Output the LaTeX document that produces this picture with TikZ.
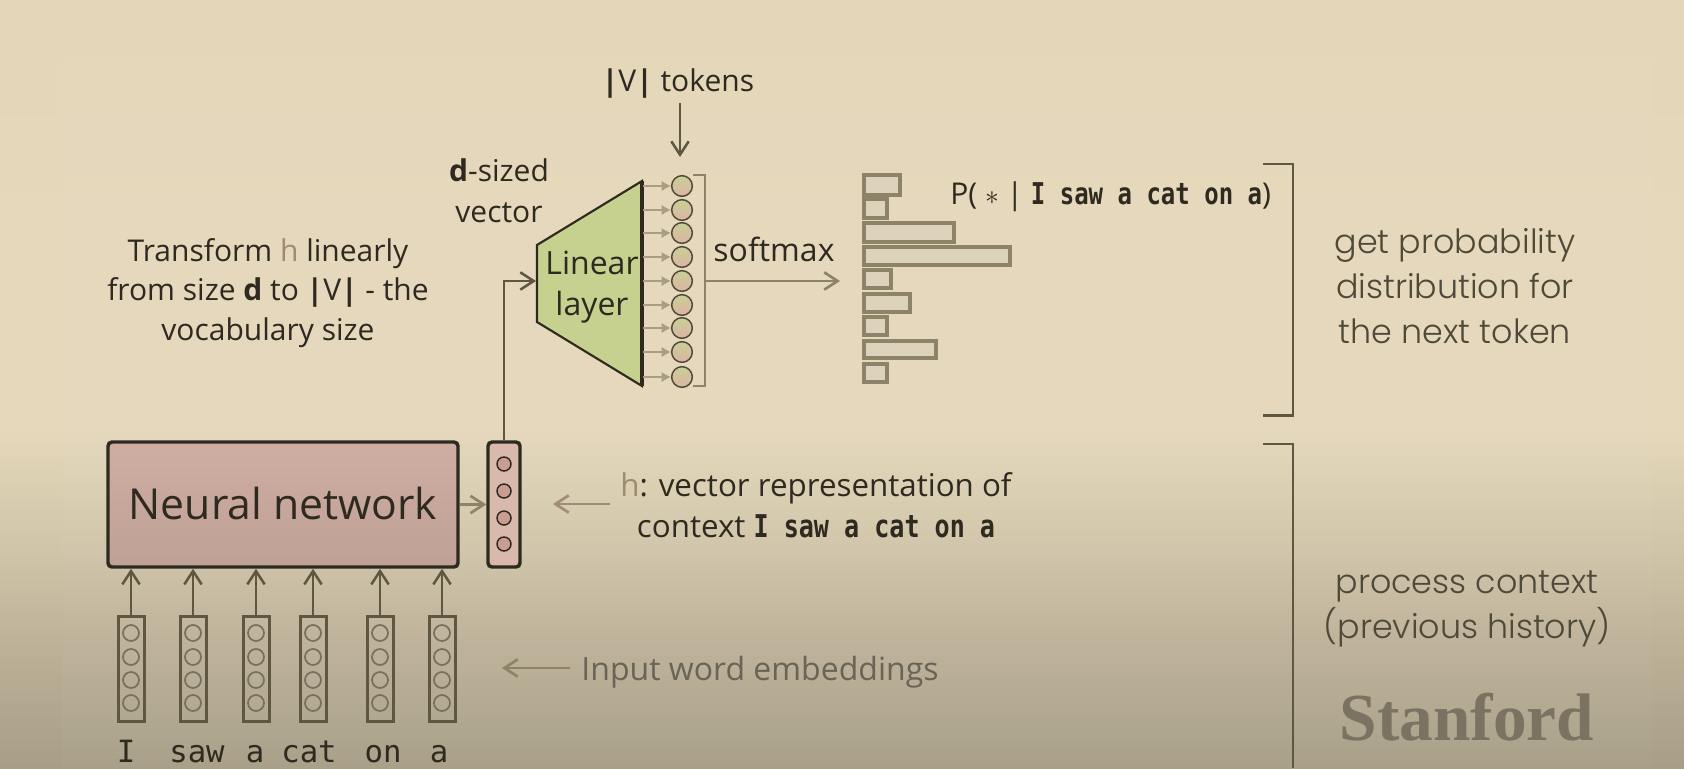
\documentclass[tikz,border=0pt]{standalone}
\usepackage{fontspec}
\setmainfont{Open Sans}
\newfontfamily\wordfont{DejaVu Sans Mono}
\newfontfamily\phrasefont[FakeStretch=0.8]{DejaVu Sans Mono}
\newfontfamily\sidefont{Poppins Light}
\newfontfamily\logofont{Liberation Serif}
\usetikzlibrary{arrows.meta}

\definecolor{inkdark}{HTML}{2E2A20}
\definecolor{inksoft}{HTML}{4E4938}
\definecolor{linedark}{HTML}{5E5741}
\definecolor{linetan}{HTML}{8C8369}
\definecolor{stubtan}{HTML}{A89E80}
\definecolor{pinkarrow}{HTML}{A08C78}
\definecolor{hbrown}{HTML}{A08A70}
\definecolor{bgtop}{HTML}{E4D6B8}
\definecolor{bgmid}{HTML}{E5D8BB}
\definecolor{bgone}{HTML}{CFC4A8}
\definecolor{bgtwo}{HTML}{BDB298}
\definecolor{bgend}{HTML}{A79E87}
\definecolor{hcircfill}{HTML}{C99D92}
\definecolor{hfill}{HTML}{D8B9AC}
\definecolor{nnfill}{HTML}{CFAEA2}
\definecolor{layerfill}{HTML}{C6D08F}
\definecolor{outgreen}{HTML}{C8D096}
\definecolor{outpink}{HTML}{DEB3A4}
\definecolor{barfill}{HTML}{DDD3BC}
\definecolor{logo}{HTML}{7B7262}
\pgfdeclareverticalshading{slidebg}{100bp}{color(0bp)=(bgend); color(25bp)=(bgend); color(33bp)=(bgtwo); color(39bp)=(bgone); color(47bp)=(bgmid); color(60bp)=(bgmid); color(75bp)=(bgtop); color(100bp)=(bgtop)}

\tikzset{
	embed/.style={draw=linedark, line width=2.25pt, minimum width=19.5pt, minimum height=78.75pt, inner sep=0pt},
	embedcirc/.style={draw=linedark!85, line width=1.3pt, circle, minimum size=12pt, inner sep=0pt},
	hcirc/.style={draw=inkdark, line width=1.1pt, circle, fill=hcircfill, minimum size=10.5pt, inner sep=0pt},
	outcirc/.style={draw=inksoft, line width=1.1pt, circle, top color=outgreen, bottom color=outpink, minimum size=15.5pt, inner sep=0pt},
	barbox/.style={draw=linetan, line width=2.3pt, fill=barfill},
	bracketline/.style={draw=linetan, line width=1.5pt},
	sidebracket/.style={draw=linedark, line width=1.8pt},
	upconn/.style={draw=linedark, line width=2pt, -{Straight Barb[length=10pt,width=13pt,line width=1.9pt]}},
	tanconn/.style={draw=linetan, line width=2.2pt, -{Straight Barb[length=10pt,width=13pt,line width=2pt]}},
	stubconn/.style={draw=stubtan, line width=2.2pt, -{Latex[length=7pt,width=8pt]}},
	plaintext/.style={text=inkdark, align=center, inner sep=0pt, font=\fontsize{22.5}{29}\selectfont},
	sidetext/.style={text=inksoft, align=center, inner sep=0pt, font=\sidefont\fontsize{25}{33.5}\selectfont},
	wordlabel/.style={text=inkdark, inner sep=0pt, anchor=base, font=\wordfont\fontsize{23}{23}\selectfont}
}

\begin{document}
\begin{tikzpicture}[x=0.75pt,y=0.75pt,yscale=-1,xscale=1]
	\useasboundingbox (0,0) rectangle (1684,768);
	\shade[shading=slidebg] (0,0) rectangle (1684,768);
	\fill[white, opacity=0.025] (62,38) rectangle (1652,768);

	% input words and their vectors
	\node[embed] (e1) at (131,668.5) {};
	\node[embed] (e2) at (193,668.5) {};
	\node[embed] (e3) at (256,668.5) {};
	\node[embed] (e4) at (313,668.5) {};
	\node[embed] (e5) at (380,668.5) {};
	\node[embed] (e6) at (442,668.5) {};
	\node[embedcirc] (e1a) at (131,633) {};
	\node[embedcirc] (e1b) at (131,657) {};
	\node[embedcirc] (e1c) at (131,680) {};
	\node[embedcirc] (e1d) at (131,703) {};
	\node[embedcirc] (e2a) at (193,633) {};
	\node[embedcirc] (e2b) at (193,657) {};
	\node[embedcirc] (e2c) at (193,680) {};
	\node[embedcirc] (e2d) at (193,703) {};
	\node[embedcirc] (e3a) at (256,633) {};
	\node[embedcirc] (e3b) at (256,657) {};
	\node[embedcirc] (e3c) at (256,680) {};
	\node[embedcirc] (e3d) at (256,703) {};
	\node[embedcirc] (e4a) at (313,633) {};
	\node[embedcirc] (e4b) at (313,657) {};
	\node[embedcirc] (e4c) at (313,680) {};
	\node[embedcirc] (e4d) at (313,703) {};
	\node[embedcirc] (e5a) at (380,633) {};
	\node[embedcirc] (e5b) at (380,657) {};
	\node[embedcirc] (e5c) at (380,680) {};
	\node[embedcirc] (e5d) at (380,703) {};
	\node[embedcirc] (e6a) at (442,633) {};
	\node[embedcirc] (e6b) at (442,657) {};
	\node[embedcirc] (e6c) at (442,680) {};
	\node[embedcirc] (e6d) at (442,703) {};
	\node[wordlabel] (w1) at (126,762) {I};
	\node[wordlabel] (w2) at (197,762) {saw};
	\node[wordlabel] (w3) at (255,762) {a};
	\node[wordlabel] (w4) at (309,762) {cat};
	\node[wordlabel] (w5) at (383,762) {on};
	\node[wordlabel] (w6) at (439,762) {a};

	% network and context vector
	\node[draw=inkdark, line width=2.6pt, rounded corners=3pt, top color=nnfill, bottom color=nnfill!92!black, minimum width=262.5pt, minimum height=93.75pt, text=inkdark, font=\fontsize{32}{32}\selectfont] (nn) at (283,504.5) {\raisebox{2pt}{Neural network}};
	\node[draw=inkdark, line width=2.6pt, rounded corners=3pt, fill=hfill, minimum width=24pt, minimum height=93.75pt, inner sep=0pt] (hvec) at (504,504.5) {};
	\node[hcirc] (h1) at (504,464) {};
	\node[hcirc] (h2) at (504,491) {};
	\node[hcirc] (h3) at (504,518) {};
	\node[hcirc] (h4) at (504,544) {};
	\draw[upconn] (e1.north) -- (e1.north |- nn.south);
	\draw[upconn] (e2.north) -- (e2.north |- nn.south);
	\draw[upconn] (e3.north) -- (e3.north |- nn.south);
	\draw[upconn] (e4.north) -- (e4.north |- nn.south);
	\draw[upconn] (e5.north) -- (e5.north |- nn.south);
	\draw[upconn] (e6.north) -- (e6.north |- nn.south);
	\draw[tanconn] (nn) -- (hvec);

	% linear layer
	\draw[draw=inkdark, line width=1.6pt, fill=layerfill] (537,245) -- (642,181) -- (642,386) -- (537,322) -- cycle;
	\draw[draw=inkdark, line width=2.4pt] (642,181) -- (642,386);
	\node[plaintext, font=\fontsize{24}{30.5}\selectfont] (layer) at (592,287) {Linear\\layer};
	\coordinate (layerin) at (536,281);
	\draw[upconn] (hvec.north) |- (layerin);
	\node[outcirc] (c1) at (682,186) {};
	\node[outcirc] (c2) at (682,210) {};
	\node[outcirc] (c3) at (682,233) {};
	\node[outcirc] (c4) at (682,257) {};
	\node[outcirc] (c5) at (682,281) {};
	\node[outcirc] (c6) at (682,305) {};
	\node[outcirc] (c7) at (682,328) {};
	\node[outcirc] (c8) at (682,352) {};
	\node[outcirc] (c9) at (682,377) {};
	\coordinate (layerout) at (643,281);
	\draw[stubconn] (layerout |- c1) -- (c1.west);
	\draw[stubconn] (layerout |- c2) -- (c2.west);
	\draw[stubconn] (layerout |- c3) -- (c3.west);
	\draw[stubconn] (layerout |- c4) -- (c4.west);
	\draw[stubconn] (layerout |- c5) -- (c5.west);
	\draw[stubconn] (layerout |- c6) -- (c6.west);
	\draw[stubconn] (layerout |- c7) -- (c7.west);
	\draw[stubconn] (layerout |- c8) -- (c8.west);
	\draw[stubconn] (layerout |- c9) -- (c9.west);
	\draw[bracketline] (693,175) -- (705,175) -- (705,386) -- (693,386);

	% softmax output
	\coordinate (softfrom) at (705,281);
	\coordinate (softto) at (840,281);
	\draw[tanconn] (softfrom) -- (softto);
	\node[plaintext, font=\fontsize{24}{29}\selectfont] (softlabel) at (774,249) {softmax};
	\draw[barbox] (864,175) rectangle (900,195);
	\draw[barbox] (864,199) rectangle (887,218);
	\draw[barbox] (864,223) rectangle (954,242);
	\draw[barbox] (864,247) rectangle (1010,265);
	\draw[barbox] (864,270) rectangle (891,288);
	\draw[barbox] (864,294) rectangle (910,312);
	\draw[barbox] (864,317) rectangle (887,335);
	\draw[barbox] (864,341) rectangle (936,358);
	\draw[barbox] (864,364) rectangle (887,382);

	% labels
	\node[plaintext] (vtokens) at (678,84) {{\bfseries|}V{\bfseries|} tokens};
	\coordinate (vfrom) at (680,103);
	\coordinate (vto) at (680,157);
	\draw[upconn] (vfrom) -- (vto);
	\node[plaintext] (dsize) at (499,191) {\textbf{d}-sized\\[2pt]vector};
	\node[plaintext, font=\fontsize{22.5}{29.5}\selectfont] (transform) at (268,293) {Transform {\color{hbrown}h} linearly\\from size \textbf{d} to {\bfseries|}V{\bfseries|} - the\\vocabulary size};
	\node[plaintext, anchor=west, text=inkdark] (prob) at (950,197) {P( $*$ | {\phrasefont\bfseries I saw a cat on a})};
	\node[plaintext, font=\fontsize{23.5}{29}\selectfont] (hlabel) at (816,505) {{\color{hbrown}h}: vector representation of\\[2pt]context {\phrasefont\bfseries I saw a cat on a}};
	\coordinate (hfrom) at (610,504);
	\coordinate (hto) at (553,504);
	\draw[draw=pinkarrow, line width=2.2pt, -{Straight Barb[length=10pt,width=13pt,line width=2pt]}] (hfrom) -- (hto);
	\node[plaintext, text=inksoft!85, font=\fontsize{24}{29}\selectfont] (inputlabel) at (760,672) {Input word embeddings};
	\coordinate (infrom) at (570,668);
	\coordinate (into) at (502,668);
	\draw[draw=linetan, line width=2.2pt, -{Straight Barb[length=10pt,width=13pt,line width=2pt]}] (infrom) -- (into);

	% side brackets and captions
	\draw[sidebracket] (1263,164) -- (1293,164) -- (1293,415.5) -- (1263,415.5);
	\draw[sidebracket] (1263,444) -- (1293,444) -- (1293,768);
	\node[sidetext] (nexttoken) at (1455,286) {get probability\\distribution for\\the next token};
	\node[sidetext] (context) at (1467,609) {process context\\(previous history)};
	\node[text=logo, inner sep=0pt, font=\logofont\bfseries\fontsize{50.5}{50.5}\selectfont] (stanford) at (1467,717) {Stanford};
\end{tikzpicture}
\end{document}
